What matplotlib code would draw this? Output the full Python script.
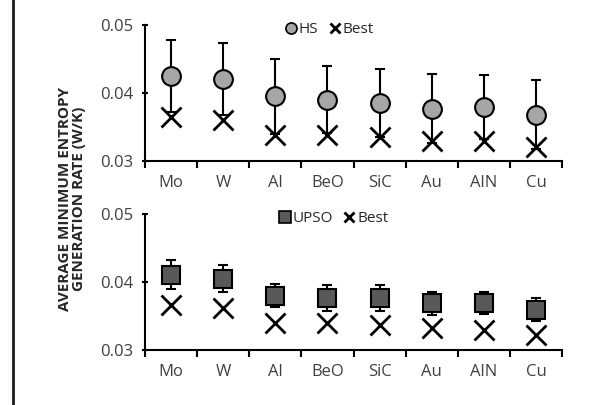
import matplotlib
matplotlib.use("Agg")
from matplotlib import pyplot as plt
from matplotlib.lines import Line2D
import numpy as np

plt.rcParams['font.family'] = ['Open Sans', 'DejaVu Sans']

materials = ["Mo", "W", "Al", "BeO", "SiC", "Au", "AlN", "Cu"]

hs_mean = [0.0425, 0.0420, 0.0395, 0.0390, 0.0386, 0.0377, 0.0379, 0.0368]
hs_err = [0.0053, 0.0053, 0.0055, 0.0049, 0.0050, 0.0051, 0.0047, 0.0051]
hs_best = [0.0364, 0.0361, 0.0338, 0.0338, 0.0335, 0.0329, 0.0329, 0.0321]

upso_mean = [0.0411, 0.0405, 0.0380, 0.0377, 0.0376, 0.0369, 0.0369, 0.0359]
upso_err = [0.0022, 0.0020, 0.0017, 0.0019, 0.0019, 0.0017, 0.0016, 0.0017]
upso_best = [0.0366, 0.0362, 0.0339, 0.0339, 0.0337, 0.0333, 0.0330, 0.0322]


def drawPanel(ax, mean, err, best, marker, face, label, legx):
    x = np.arange(len(materials))
    ax.errorbar(x, mean, yerr=err, fmt='none', ecolor='black', elinewidth=1.5,
                capsize=3.6, capthick=1.5, zorder=2)
    ax.plot(x, best, linestyle='none', marker='x', markersize=14, mew=2,
            color='black', zorder=3)
    ax.plot(x, mean, linestyle='none', marker=marker, markersize=13.5,
            markerfacecolor=face, markeredgecolor='black', mew=1.5, zorder=4)

    ax.set_xlim(-0.5, len(materials) - 0.5)
    ax.set_ylim(0.03, 0.05)
    ax.set_yticks([0.03, 0.04, 0.05])
    ax.set_yticklabels(["0.03", "0.04", "0.05"])
    ax.set_xticks(x)
    ax.set_xticklabels(materials)
    ax.set_xticks(np.arange(len(materials) + 1) - 0.5, minor=True)
    ax.tick_params(axis='x', which='major', length=0, pad=10, labelsize=12)
    ax.tick_params(axis='x', which='minor', length=5, width=1.5, direction='out')
    ax.tick_params(axis='y', length=5, width=1.5, direction='inout', labelsize=12, pad=6)
    for s in ['top', 'right']:
        ax.spines[s].set_visible(False)
    for s in ['left', 'bottom']:
        ax.spines[s].set_linewidth(1.5)
    for t in ax.get_xticklabels() + ax.get_yticklabels():
        t.set_color('#404040')

    handles = [
        Line2D([], [], linestyle='none', marker=marker, markersize=8,
               markerfacecolor=face, markeredgecolor='black', mew=1.2),
        Line2D([], [], linestyle='none', marker='x', markersize=7, mew=2, color='black'),
    ]
    leg = ax.legend(handles, [label, "Best"], ncol=2, loc='center',
                    bbox_to_anchor=(legx, 0.965), frameon=False, fontsize=11,
                    handletextpad=0.0, columnspacing=0.6, handlelength=1.0,
                    borderpad=0.1)
    for t in leg.get_texts():
        t.set_color('#262626')


fig = plt.figure(figsize=(5.96, 4.05), dpi=100)
ax1 = fig.add_axes([0.2433, 0.6025, 0.6997, 0.3358])
ax2 = fig.add_axes([0.2433, 0.1358, 0.6997, 0.3358])

drawPanel(ax1, hs_mean, hs_err, hs_best, 'o', '#a6a6a6', "HS", 0.44)
drawPanel(ax2, upso_mean, upso_err, upso_best, 's', '#595959', "UPSO", 0.45)

fig.text(0.121, 0.509, "AVERAGE MINIMUM ENTROPY\nGENERATION RATE (W/K)",
         rotation=90, ha='center', va='center', multialignment='center',
         fontsize=11, fontweight='bold', color='#262626', linespacing=1.0)

fig.add_artist(Line2D([0.022, 0.022], [0, 1], transform=fig.transFigure,
                      color='#1a1a1a', linewidth=2))

fig.savefig("out.png", dpi=100)
